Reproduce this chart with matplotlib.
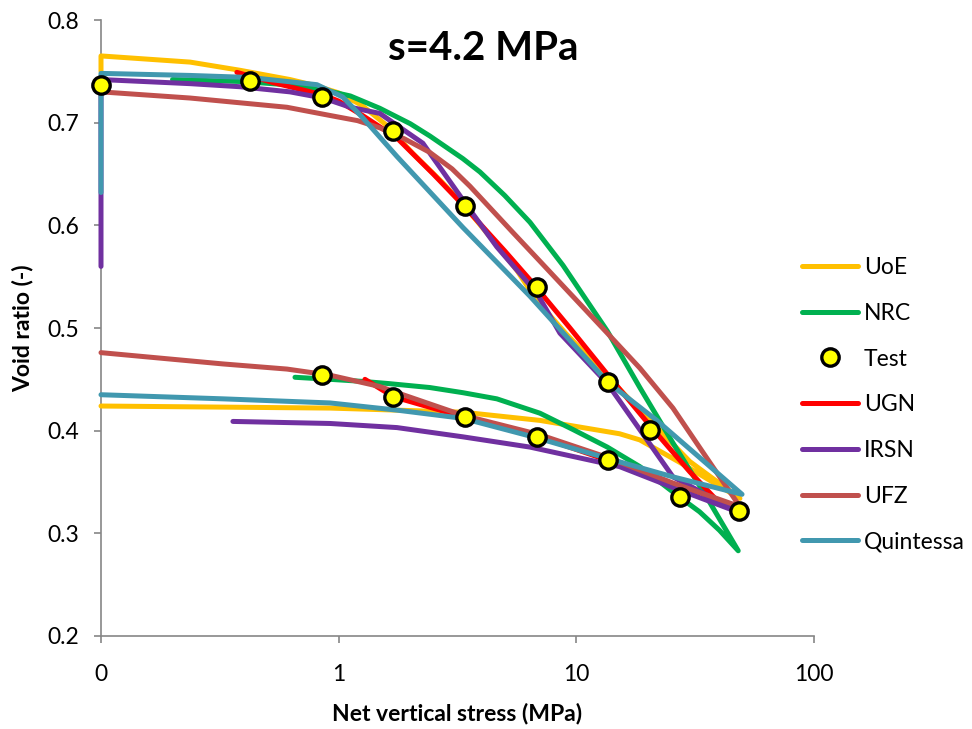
import matplotlib
matplotlib.use("Agg")
import matplotlib.pyplot as plt
from matplotlib.ticker import FixedLocator, FixedFormatter, NullLocator

plt.rcParams['font.family'] = ['Lato', 'DejaVu Sans']

# ---- data: net vertical stress (MPa) and void ratio (-) ----
uoe_x = [0.1, 0.1, 0.237, 0.385, 0.624, 0.8, 1.0, 1.25, 1.6, 2.05, 2.67, 3.35, 4.33, 5.63, 6.8, 9.0, 13.6,
         20.4, 30.0, 48.8,
         27.3, 18.5, 15.2, 7.03, 3.33, 0.92, 0.1]
uoe_y = [0.750, 0.765, 0.759, 0.751, 0.742, 0.736, 0.729, 0.717, 0.697, 0.670, 0.644, 0.620, 0.589, 0.556, 0.527, 0.495, 0.452,
         0.410, 0.370, 0.334,
         0.369, 0.391, 0.397, 0.410, 0.418, 0.422, 0.424]

nrc_x = [0.2, 0.4, 0.6, 0.86, 1.12, 1.49, 2.0, 2.42, 3.33, 3.93, 5.0, 6.38, 8.79, 13.5, 18.5, 25.5, 35.4, 48.0,
         40.0, 33.0, 27.3, 18.5, 13.5, 9.7, 7.03, 4.63, 3.33, 2.42, 1.6, 1.26, 0.92, 0.655]
nrc_y = [0.742, 0.740, 0.737, 0.732, 0.726, 0.714, 0.699, 0.687, 0.665, 0.652, 0.629, 0.603, 0.561, 0.497, 0.442, 0.388, 0.335, 0.283,
         0.303, 0.321, 0.335, 0.365, 0.384, 0.401, 0.417, 0.431, 0.437, 0.442, 0.446, 0.448, 0.450, 0.452]

test_x = [0.1, 0.425, 0.85, 1.7, 3.4, 6.8, 13.6, 20.4, 48.5, 27.2, 13.6, 6.8, 3.4, 1.7, 0.85]
test_y = [0.737, 0.741, 0.725, 0.692, 0.619, 0.540, 0.447, 0.401, 0.322, 0.335, 0.371, 0.394, 0.413, 0.433, 0.454]

ugn_x = [0.373, 0.53, 0.86, 1.0, 1.26, 1.76, 2.5, 3.33, 5.0, 6.38, 9.4, 13.5, 20.4, 30.0, 38.0,
         27.3, 20.0, 13.6, 6.8, 3.4, 1.7, 1.29]
ugn_y = [0.749, 0.739, 0.727, 0.721, 0.707, 0.685, 0.650, 0.620, 0.575, 0.547, 0.500, 0.455, 0.405, 0.360, 0.335,
         0.346, 0.356, 0.371, 0.395, 0.413, 0.433, 0.450]

irsn_x = [0.1, 0.1, 0.237, 0.385, 0.624, 0.86, 1.12, 1.49, 2.26, 3.57, 4.63, 6.82, 8.53, 13.5, 18.5, 25.5, 48.8,
          27.3, 15.2, 6.38, 3.33, 1.76, 0.92, 0.359]
irsn_y = [0.560, 0.742, 0.738, 0.735, 0.730, 0.724, 0.715, 0.709, 0.680, 0.615, 0.579, 0.534, 0.495, 0.446, 0.401, 0.355, 0.320,
          0.342, 0.365, 0.384, 0.394, 0.403, 0.407, 0.409]

ufz_x = [0.1, 0.237, 0.606, 0.92, 1.2, 1.49, 1.9, 2.42, 3.0, 3.57, 5.41, 7.03, 8.79, 13.5, 18.5, 25.5, 35.0, 48.8,
         25.5, 13.5, 7.03, 3.33, 1.76, 1.49, 0.92, 0.606, 0.326, 0.1]
ufz_y = [0.730, 0.724, 0.715, 0.707, 0.702, 0.695, 0.684, 0.671, 0.655, 0.638, 0.593, 0.565, 0.541, 0.495, 0.461, 0.422, 0.375, 0.326,
         0.349, 0.374, 0.396, 0.415, 0.437, 0.443, 0.454, 0.460, 0.465, 0.476]

qui_x = [0.1, 0.1, 0.237, 0.424, 0.81, 1.04, 1.26, 1.76, 3.33, 6.38, 13.6, 21.8, 49.8,
         25.5, 13.5, 6.82, 3.33, 1.76, 0.92, 0.326, 0.1]
qui_y = [0.632, 0.748, 0.746, 0.744, 0.737, 0.725, 0.705, 0.667, 0.598, 0.531, 0.447, 0.410, 0.338,
         0.355, 0.373, 0.393, 0.412, 0.420, 0.427, 0.431, 0.435]

x_ticks = [0.1, 1, 10, 100]
x_tick_labels = ["0", "1", "10", "100"]
y_ticks = [0.2, 0.3, 0.4, 0.5, 0.6, 0.7, 0.8]
y_tick_labels = ["0.2", "0.3", "0.4", "0.5", "0.6", "0.7", "0.8"]

# ---- figure ----
fig = plt.figure(figsize=(9.72, 7.29), dpi=100)
ax = fig.add_axes([101 / 972, 1 - 636 / 729, (814 - 101) / 972, (636 - 20) / 729])

lw = 3.6
style = dict(lw=lw, clip_on=False, solid_capstyle="round", solid_joinstyle="round")
ax.plot(uoe_x, uoe_y, color="#FFC000", label="UoE", zorder=2, **style)
ax.plot(nrc_x, nrc_y, color="#00B050", label="NRC", zorder=3, **style)
ax.plot(test_x, test_y, ls="none", marker="o", ms=12.5, mfc="#FFFF00", mec="black", mew=2.4,
        label="Test", zorder=10, clip_on=False)
ax.plot(ugn_x, ugn_y, color="#FF0000", label="UGN", zorder=4, **style)
ax.plot(irsn_x, irsn_y, color="#7030A0", label="IRSN", zorder=5, **style)
ax.plot(ufz_x, ufz_y, color="#C0504D", label="UFZ", zorder=6, **style)
ax.plot(qui_x, qui_y, color="#4198AF", label="Quintessa", zorder=7, **style)

ax.set_xscale("log")
ax.set_xlim(0.1, 100)
ax.set_ylim(0.2, 0.8)
ax.xaxis.set_major_locator(FixedLocator(x_ticks))
ax.xaxis.set_major_formatter(FixedFormatter(x_tick_labels))
ax.xaxis.set_minor_locator(NullLocator())
ax.yaxis.set_major_locator(FixedLocator(y_ticks))
ax.yaxis.set_major_formatter(FixedFormatter(y_tick_labels))

for side in ("top", "right"):
    ax.spines[side].set_visible(False)
for side in ("left", "bottom"):
    ax.spines[side].set_color("#868686")
    ax.spines[side].set_linewidth(1.2)
    ax.spines[side].set_zorder(1)

ax.tick_params(axis="both", which="major", direction="out", length=5, width=1.2,
               color="#868686", labelsize=16.5, labelcolor="black")
ax.tick_params(axis="x", pad=15)
ax.tick_params(axis="y", pad=11)

ax.set_xlabel("Net vertical stress (MPa)", fontsize=16.5, fontweight="bold", labelpad=13)
ax.set_ylabel("Void ratio (-)", fontsize=16.5, fontweight="bold", labelpad=10)

fig.text(483 / 972, 1 - 48 / 729, "s=4.2 MPa", fontsize=29, fontweight="bold",
         ha="center", va="center")

leg = ax.legend(loc="upper left", bbox_to_anchor=(802 / 972, 1 - 257 / 729),
                bbox_transform=fig.transFigure, frameon=False, fontsize=16.5,
                handlelength=2.45, handletextpad=0.25, labelspacing=1.08,
                borderpad=0, borderaxespad=0)

fig.savefig("out.png", dpi=100)
